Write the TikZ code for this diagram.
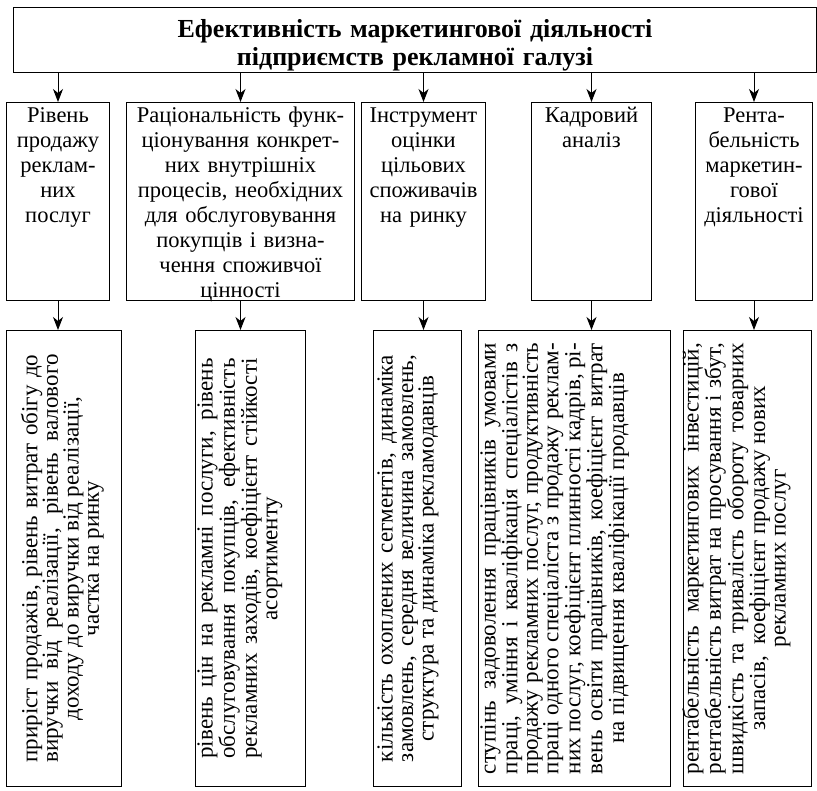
\documentclass[tikz,border=0pt]{standalone}
\usepackage{fontspec}
\setmainfont{Liberation Serif}
\usetikzlibrary{arrows.meta}
\newcommand{\jst}{\spaceskip=0pt\xspaceskip=0pt\leftskip=0pt plus 1fil\rightskip=0pt plus -1fil\parfillskip=0pt plus 2fil\relax}
\newcommand{\cbr}{\unskip\nobreak\hspace{0pt plus 2fil}\break}
\begin{document}
\begin{tikzpicture}[x=1pt, y=-1pt, line width=1pt,
	box/.style={draw, inner sep=0pt},
	head/.style={box, font=\fontsize{26}{28}\selectfont\bfseries, align=center, anchor=north west, text width=803pt, text height=30pt, text depth=35pt},
	crit/.style={box, font=\fontsize{22.5}{25}\selectfont, align=center, anchor=north west, text height=20.5pt, text depth=177.5pt},
	ind/.style={box, font=\fontsize{23}{20.5}\selectfont, rotate=90, anchor=north east, minimum width=456pt, execute at begin node=\jst},
	arr/.style={-{Stealth[length=13pt, width=10pt, inset=4pt]}}]
	\useasboundingbox (0,0) rectangle (817,791);
	\node[head] (top) at (13,7) {Ефективність маркетингової діяльності\\підприємств рекламної галузі};
	\node[crit, text width=103pt] (b1) at (6,102) {Рівень\\продажу\\реклам-\\них\\послуг};
	\node[crit, text width=228pt] (b2) at (126,102) {Раціональність функ-\\ціонування конкрет-\\них внутрішніх\\процесів, необхідних\\для обслуговування\\покупців і визна-\\чення споживчої\\цінності};
	\node[crit, text width=124pt] (b3) at (361,102) {Інструмент\\оцінки\\цільових\\споживачів\\на ринку};
	\node[crit, text width=120pt] (b4) at (531,102) {Кадровий\\аналіз};
	\node[crit, text width=117pt] (b5) at (695,102) {Рента-\\бельність\\маркетин-\\гової\\діяльності};
	\node[ind, text width=408pt, text height=31pt, text depth=84pt] (c1) at (6,330) {приріст продажів, рівень витрат обігу до\linebreak виручки від реалізації, рівень валового\linebreak доходу до виручки від реалізації,\cbr частка на ринку};
	\node[ind, text width=400pt, text height=17pt, text depth=93pt] (c2) at (195,330) {рівень цін на рекламні послуги, рівень\linebreak обслуговування покупців, ефективність\linebreak рекламних заходів, коефіцієнт стійкості\linebreak асортименту};
	\node[ind, text width=407pt, text height=19pt, text depth=69pt] (c3) at (373,330) {кількість охоплених сегментів, динаміка\linebreak замовлень, середня величина замовлень,\linebreak структура та динаміка рекламодавців};
	\node[ind, text width=431pt, text height=17pt, text depth=175pt] (c4) at (478,330) {ступінь задоволення працівників умовами\linebreak праці, уміння і кваліфікація спеціалістів з\linebreak продажу рекламних послуг, продуктивність\linebreak праці одного спеціаліста з продажу реклам-\linebreak них послуг, коефіцієнт плинності кадрів, рі-\linebreak вень освіти працівників, коефіцієнт витрат\linebreak на підвищення кваліфікації продавців};
	\node[ind, text width=431pt, text height=15pt, text depth=113pt] (c5) at (683,330) {рентабельність маркетингових інвестицій,\linebreak рентабельність витрат на просування і збут,\linebreak швидкість та тривалість обороту товарних\linebreak запасів, \ коефіцієнт продажу нових\cbr рекламних послуг};
	\foreach \i in {1,...,5}
		\draw[arr] (top.south -| b\i.north) -- (b\i.north);
	\foreach \i in {1,...,5}
		\draw[arr] (b\i.south) -- (b\i.south |- c\i.east);
\end{tikzpicture}
\end{document}
